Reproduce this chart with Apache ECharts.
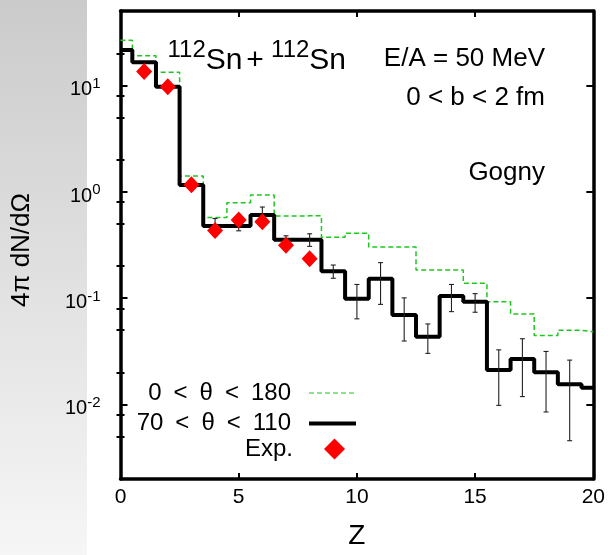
<!DOCTYPE html>
<html>
<head>
<meta charset="utf-8">
<script src="https://cdn.jsdelivr.net/npm/echarts@6/dist/echarts.min.js"></script>
<style>
  html, body { margin: 0; padding: 0; background: #fff; }
  #chart { width: 608px; height: 555px; }
</style>
</head>
<body>
<div id="chart"></div>
<script>
// charge number Z of the fragments
var zValues = [0, 1, 2, 3, 4, 5, 6, 7, 8, 9, 10, 11, 12, 13, 14, 15, 16, 17, 18, 19, 20]
// 0 < theta < 180 (green dashed)
var allAngles = [26.5, 19.0, 13.3, 1.41, 0.574, 0.789, 0.935, 0.591, 0.594, 0.373, 0.408,
  0.303, 0.303, 0.184, 0.184, 0.138, 0.0925, 0.0712, 0.0447, 0.05, 0.0483]
// 70 < theta < 110 (black)
var midAngles = [21.5, 16.5, 9.7, 1.16, 0.478, 0.478, 0.604, 0.355, 0.355, 0.179, 0.099,
  0.152, 0.0697, 0.0434, 0.105, 0.0925, 0.0212, 0.0268, 0.0202, 0.0155, 0.0144]
// experimental points
var expZ = [1, 2, 3, 4, 5, 6, 7, 8]
var expValues = [13.5, 9.73, 1.165, 0.432, 0.543, 0.524, 0.315, 0.235]
// error bars of the 70-110 histogram
var errZ = [4, 5, 6, 7, 8, 9, 10, 11, 12, 13, 14, 15, 16, 17, 18, 19]
var errLow = [0.395, 0.43, 0.489, 0.324, 0.307, 0.154, 0.064, 0.0875, 0.0396, 0.0303,
  0.0748, 0.0738, 0.00984, 0.0119, 0.00853, 0.00458]
var errHigh = [0.561, 0.526, 0.719, 0.386, 0.403, 0.205, 0.1346, 0.216, 0.1007, 0.0573,
  0.1346, 0.1104, 0.0327, 0.0416, 0.0316, 0.0262]
// axis ticks
var majorTicks = [0.01, 0.1, 1, 10]
var minorTicks = [0.005, 0.008, 0.02, 0.05, 0.08, 0.2, 0.5, 0.8, 2, 5, 8, 20]

var names = ['0\u2002<\u2002θ\u2002<\u2002180', '70\u2002<\u2002θ\u2002<\u2002110', 'Exp.']
var FONT = 'Liberation Sans'

function pairs (xs, ys) {
  return xs.map(function (x, i) { return [x, ys[i]] })
}

var myChart = echarts.init(document.getElementById('chart'), null, { renderer: 'canvas' })

var logAxis = function (extra) {
  var base = {
    type: 'log',
    logBase: 10,
    min: 0.002,
    max: 50,
    splitLine: { show: false },
    axisLine: { show: false },
    axisLabel: { show: false },
    axisTick: { show: false }
  }
  return Object.assign(base, extra)
}

var hidden = { color: 'rgba(0,0,0,0)', borderWidth: 0, opacity: 0 }
var legendText = { fontSize: 24, lineHeight: 22, fontFamily: FONT, color: '#000' }

var option = {
  animation: false,
  backgroundColor: '#ffffff',
  textStyle: { fontFamily: FONT, color: '#000' },
  grid: { left: 120.5, right: 11.7, top: 11, bottom: 68.3, containLabel: false },
  graphic: [
    {
      type: 'rect',
      z: -5,
      silent: true,
      shape: { x: 0, y: 0, width: 87, height: 555 },
      style: {
        fill: new echarts.graphic.LinearGradient(0, 0, 0, 1, [
          { offset: 0, color: '#cbcbcb' },
          { offset: 1, color: '#f6f6f6' }
        ])
      }
    },
    {
      type: 'text',
      z: 10,
      style: {
        x: 167.5,
        y: 38,
        verticalAlign: 'top',
        text: '{s|112}{b|Sn}{t|\u00a0}{b|+}{u|\u00a0}{s|112}{b|Sn}',
        fill: '#000',
        rich: {
          s: { fontSize: 24, fontFamily: FONT, verticalAlign: 'top' },
          b: { fontSize: 30, fontFamily: FONT, lineHeight: 38, verticalAlign: 'bottom' },
          t: { fontSize: 14, fontFamily: FONT, verticalAlign: 'bottom' },
          u: { fontSize: 26, fontFamily: FONT, verticalAlign: 'bottom' }
        }
      }
    },
    {
      type: 'text',
      z: 10,
      style: { x: 545, y: 58.5, align: 'right', verticalAlign: 'middle', text: 'E/A = 50 MeV', fontSize: 26, fontFamily: FONT, fill: '#000' }
    },
    {
      type: 'text',
      z: 10,
      style: { x: 545, y: 97.5, align: 'right', verticalAlign: 'middle', text: '0 < b < 2 fm', fontSize: 26, fontFamily: FONT, fill: '#000' }
    },
    {
      type: 'text',
      z: 10,
      style: { x: 545, y: 172.5, align: 'right', verticalAlign: 'middle', text: 'Gogny', fontSize: 26, fontFamily: FONT, fill: '#000' }
    }
  ],
  legend: [
    {
      data: [
        { name: names[0], itemStyle: hidden, lineStyle: { width: 1.2 } },
        { name: names[1], itemStyle: hidden, lineStyle: { width: 4 } }
      ],
      orient: 'vertical',
      align: 'right',
      right: 250,
      top: 381,
      padding: 0,
      itemWidth: 47,
      itemHeight: 14,
      itemGap: 6.5,
      selectedMode: false,
      textStyle: Object.assign({ padding: [0, 13, 0, 0] }, legendText)
    },
    {
      data: [{ name: names[2], itemStyle: { opacity: 1 } }],
      orient: 'vertical',
      align: 'right',
      right: 263,
      top: 437,
      padding: 0,
      itemWidth: 21,
      itemHeight: 21,
      selectedMode: false,
      textStyle: Object.assign({ padding: [0, 26, 0, 0] }, legendText)
    }
  ],
  xAxis: [
    {
      type: 'value',
      position: 'bottom',
      min: 0,
      max: 20,
      interval: 5,
      name: 'Z',
      nameLocation: 'middle',
      nameGap: 43,
      nameTextStyle: { fontSize: 28, fontFamily: FONT, color: '#000' },
      axisLine: { show: true, onZero: false, lineStyle: { color: '#000', width: 3.5 } },
      axisTick: { show: true, inside: true, length: 6, lineStyle: { color: '#000', width: 2 } },
      axisLabel: { fontSize: 21, margin: 8, color: '#000', fontFamily: FONT },
      splitLine: { show: false }
    },
    {
      type: 'value',
      position: 'top',
      min: 0,
      max: 20,
      interval: 5,
      axisLine: { show: true, onZero: false, lineStyle: { color: '#000', width: 3.5 } },
      axisTick: { show: true, inside: true, length: 6, lineStyle: { color: '#000', width: 2 } },
      axisLabel: { show: false },
      splitLine: { show: false }
    }
  ],
  yAxis: [
    logAxis({
      position: 'left',
      name: '4π dN/dΩ',
      nameLocation: 'middle',
      nameGap: 86,
      nameTextStyle: { fontSize: 26, fontFamily: FONT, color: '#000', padding: [0, 10, 0, 0] },
      axisLine: { show: true, onZero: false, lineStyle: { color: '#000', width: 3.5 } },
      axisTick: { show: true, inside: true, length: 7, customValues: majorTicks, lineStyle: { color: '#000', width: 2 } },
      axisLabel: {
        show: true,
        customValues: majorTicks,
        margin: 20,
        padding: [5, 0, 0, 0],
        formatter: function (v) {
          return '{b|10}{s|' + Math.round(Math.log10(v)) + '}'
        },
        rich: {
          b: { fontSize: 20, fontFamily: FONT, color: '#000', lineHeight: 23.5, verticalAlign: 'bottom' },
          s: { fontSize: 15, fontFamily: FONT, color: '#000', verticalAlign: 'top' }
        }
      }
    }),
    logAxis({
      position: 'left',
      axisTick: { show: true, inside: true, length: 4, customValues: minorTicks, lineStyle: { color: '#000', width: 2 } }
    }),
    logAxis({
      position: 'right',
      axisLine: { show: true, onZero: false, lineStyle: { color: '#000', width: 3.5 } },
      axisTick: { show: true, inside: true, length: 7, customValues: majorTicks, lineStyle: { color: '#000', width: 2 } }
    }),
    logAxis({
      position: 'right',
      axisTick: { show: true, inside: true, length: 4, customValues: minorTicks, lineStyle: { color: '#000', width: 2 } }
    })
  ],
  series: [
    {
      name: names[0],
      type: 'line',
      step: 'middle',
      symbol: 'none',
      z: 2,
      lineStyle: { color: '#1ec81e', width: 1.5, type: [5, 3] },
      itemStyle: { color: '#1ec81e' },
      data: pairs(zValues, allAngles)
    },
    {
      name: names[1],
      type: 'line',
      step: 'middle',
      symbol: 'none',
      z: 3,
      lineStyle: { color: '#000', width: 4 },
      itemStyle: { color: '#000' },
      data: pairs(zValues, midAngles)
    },
    {
      name: 'errors',
      type: 'custom',
      z: 4,
      renderItem: function (params, api) {
        var x = api.value(0)
        var lo = api.coord([x, api.value(1)])
        var hi = api.coord([x, api.value(2)])
        var w = 2.5
        var st = { stroke: '#222', lineWidth: 1.1 }
        return {
          type: 'group',
          children: [
            { type: 'line', shape: { x1: lo[0], y1: lo[1], x2: hi[0], y2: hi[1] }, style: st },
            { type: 'line', shape: { x1: lo[0] - w, y1: lo[1], x2: lo[0] + w, y2: lo[1] }, style: st },
            { type: 'line', shape: { x1: hi[0] - w, y1: hi[1], x2: hi[0] + w, y2: hi[1] }, style: st }
          ]
        }
      },
      encode: { x: 0, y: [1, 2] },
      data: errZ.map(function (z, i) { return [z, errLow[i], errHigh[i]] })
    },
    {
      name: names[2],
      type: 'scatter',
      symbol: 'diamond',
      symbolSize: [16, 17],
      z: 5,
      itemStyle: { color: '#ff0000', opacity: 1 },
      data: pairs(expZ, expValues)
    }
  ]
}

myChart.setOption(option)
</script>
</body>
</html>
